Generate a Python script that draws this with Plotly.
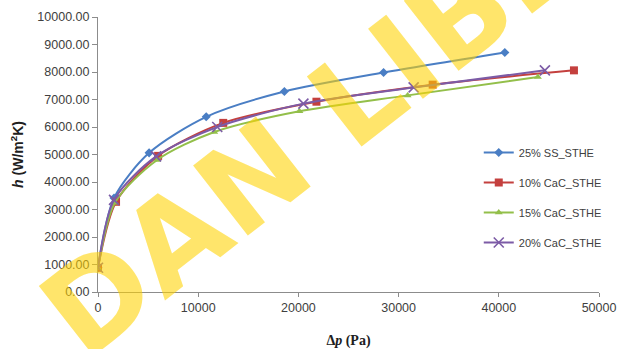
import plotly.graph_objects as go

series_names = ["25% SS_STHE", "10% CaC_STHE", "15% CaC_STHE", "20% CaC_STHE"]

dp_ss25 = [0, 1600, 5100, 10800, 18600, 28500, 40600]
h_ss25 = [880, 3420, 5060, 6370, 7290, 7980, 8710]

dp_cac10 = [0, 1800, 6000, 12500, 21800, 33400, 47500]
h_cac10 = [880, 3280, 4950, 6150, 6920, 7540, 8060]

dp_cac15 = [0, 1700, 5900, 11600, 20100, 30900, 43900]
h_cac15 = [870, 3250, 4800, 5820, 6570, 7150, 7820]

dp_cac20 = [0, 1600, 5800, 11900, 20500, 31500, 44600]
h_cac20 = [880, 3350, 4930, 6000, 6850, 7440, 8060]

y_ticks = [0, 1000, 2000, 3000, 4000, 5000, 6000, 7000, 8000, 9000, 10000]
x_ticks = [0, 10000, 20000, 30000, 40000, 50000]

watermark = "DAN LIBRARY"

colors = ["#4a7ec4", "#c4403e", "#93bf4a", "#7c5ba6"]
symbols = ["diamond", "square", "triangle-up", "x-thin"]
msizes = [7, 8, 7, 10]

xs = [dp_ss25, dp_cac10, dp_cac15, dp_cac20]
ys = [h_ss25, h_cac10, h_cac15, h_cac20]

fig = go.Figure()
for i, name in enumerate(series_names):
    marker = dict(symbol=symbols[i], size=msizes[i], color=colors[i])
    if symbols[i] == "x-thin":
        marker["line"] = dict(color=colors[i], width=1.6)
    fig.add_trace(go.Scatter(
        x=xs[i], y=ys[i], name=name, mode="lines+markers",
        line=dict(color=colors[i], width=2, shape="spline", smoothing=0.8),
        marker=marker, legendgroup=name,
    ))

axis_col = "#8c8c8c"
fig.update_layout(
    width=625, height=349,
    margin=dict(l=98, r=26, t=17, b=57, autoexpand=False),
    paper_bgcolor="white", plot_bgcolor="white",
    font=dict(family="Liberation Sans, Arial, sans-serif", color="#404040", size=12.5),
    showlegend=True,
    legend=dict(
        x=0.76, y=0.56, xanchor="left", yanchor="top",
        bgcolor="rgba(0,0,0,0)", font=dict(size=11, color="#404040"),
        tracegroupgap=11, itemwidth=30,
    ),
    xaxis=dict(
        range=[0, 50000], tickvals=x_ticks, tickformat="d", automargin=False,
        showgrid=False, zeroline=False, showline=True, linecolor=axis_col, linewidth=1,
        ticks="outside", ticklen=4, tickcolor=axis_col,
        title=dict(text="<b>Δ<i>p</i> (Pa)</b>", standoff=21,
                   font=dict(family="Liberation Serif, Times New Roman, serif", size=14, color="#202020")),
    ),
    yaxis=dict(
        range=[0, 10000], tickvals=y_ticks, tickformat=".2f", automargin=False,
        showgrid=False, zeroline=False, showline=True, linecolor=axis_col, linewidth=1,
        ticks="outside", ticklen=5, tickcolor=axis_col,
        title=dict(text="<b><i>h</i> (W/m<sup>2</sup>K)</b>", standoff=10,
                   font=dict(family="Liberation Sans, Arial, sans-serif", size=14, color="#202020")),
    ),
)

fig.add_annotation(
    text="<b>" + watermark + "</b>", xref="paper", yref="paper", x=0.647, y=0.895,
    xanchor="center", yanchor="middle",
    showarrow=False, textangle=-38,
    font=dict(family="DejaVu Sans, sans-serif", size=122, color="rgba(255,210,0,0.58)"),
)

fig.write_html("out.html")
